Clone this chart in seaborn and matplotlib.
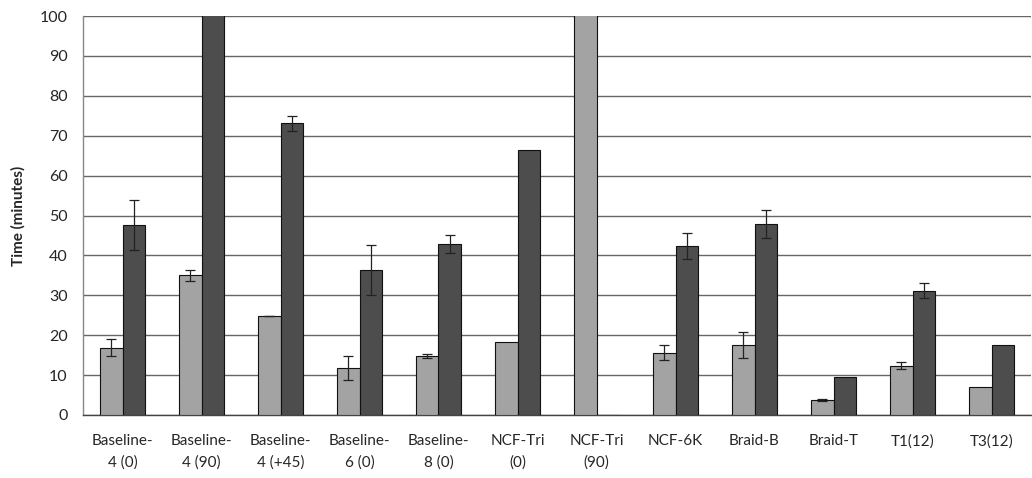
import matplotlib
matplotlib.use("Agg")
import matplotlib.pyplot as plt
import seaborn as sns
import pandas as pd
import numpy as np

categories = ["Baseline-\n4 (0)", "Baseline-\n4 (90)", "Baseline-\n4 (+45)", "Baseline-\n6 (0)",
              "Baseline-\n8 (0)", "NCF-Tri\n(0)", "NCF-Tri\n(90)", "NCF-6K", "Braid-B",
              "Braid-T", "T1(12)", "T3(12)"]
series_names = ["Series A", "Series B"]
light_values = [16.9, 35.0, 24.8, 11.8, 14.8, 18.4, 110.0, 15.6, 17.6, 3.7, 12.4, 6.9]
light_errors = [2.1, 1.3, 0.1, 3.0, 0.6, 0.0, 0.0, 1.9, 3.2, 0.2, 0.9, 0.0]
dark_values = [47.6, 110.0, 73.1, 36.3, 42.9, 66.4, 0.0, 42.4, 47.8, 9.4, 31.2, 17.5]
dark_errors = [6.2, 0.0, 1.9, 6.3, 2.3, 0.0, 0.0, 3.3, 3.5, 0.0, 1.8, 0.0]
y_ticks = [0, 10, 20, 30, 40, 50, 60, 70, 80, 90, 100]

df = pd.DataFrame({
    "category": categories * 2,
    "series": [series_names[0]] * len(categories) + [series_names[1]] * len(categories),
    "value": light_values + dark_values,
})

sns.set_theme(style="white")
plt.rcParams["font.family"] = ["Lato", "DejaVu Sans"]

fig = plt.figure(figsize=(10.32, 4.78), dpi=100)
ax = fig.add_axes([83 / 1032, 1 - 415 / 478, 948 / 1032, (415 - 16) / 478])

sns.barplot(data=df, x="category", y="value", hue="series", order=categories,
            hue_order=series_names, palette=["#a3a3a3", "#4d4d4d"], width=0.58,
            gap=0, errorbar=None, edgecolor="#111111", linewidth=0.8, ax=ax,
            legend=False, zorder=3)

for cont, errs in zip(ax.containers, [light_errors, dark_errors]):
    for bar, e in zip(cont, errs):
        if e > 0:
            ax.errorbar(bar.get_x() + bar.get_width() / 2, bar.get_height(), yerr=e,
                        fmt="none", ecolor="#222222", elinewidth=0.9, capsize=3.3,
                        capthick=0.9, zorder=4)

ax.set_ylim(0, 100)
ax.set_xlim(-0.5, len(categories) - 0.5)
ax.set_yticks(y_ticks)
ax.yaxis.grid(True, color="#666666", linewidth=1.0, zorder=0)
ax.set_axisbelow(True)

ax.set_xticks(np.arange(len(categories)))
ax.set_xticklabels(categories, fontsize=11, linespacing=1.6)
ax.set_xticks(np.arange(len(categories) + 1) - 0.5, minor=True)
ax.tick_params(axis="x", which="major", length=0, pad=14)
ax.tick_params(axis="x", which="minor", length=6, width=0.8, color="#555555", direction="out")
ax.tick_params(axis="y", length=5, width=0.8, color="#666666", direction="out", pad=6,
               labelsize=11.5)

ax.set_xlabel("")
ax.set_ylabel("Time (minutes)", fontsize=11, fontweight="bold", labelpad=10)

for s in ["top", "right"]:
    ax.spines[s].set_visible(False)
ax.spines["left"].set_color("#888888")
ax.spines["left"].set_linewidth(1.0)
ax.spines["bottom"].set_color("#444444")
ax.spines["bottom"].set_linewidth(1.0)

fig.savefig("out.png", dpi=100)
